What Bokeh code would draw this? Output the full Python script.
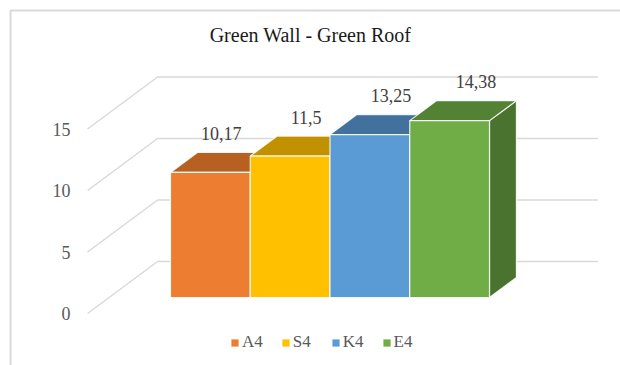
from bokeh.plotting import figure
from bokeh.models import Range1d, Legend, LegendItem, ColumnDataSource
from bokeh.core.properties import value
from bokeh.embed import file_html
from bokeh.resources import INLINE

# ---- data -------------------------------------------------------------
categories = ["A4", "S4", "K4", "E4"]
values = [10.17, 11.5, 13.25, 14.38]
front_colors = ["#ED7D31", "#FFC000", "#5B9BD5", "#70AD47"]
top_colors = ["#B85F22", "#C29100", "#41719C", "#548235"]
side_colors = ["#A9561E", "#B08400", "#3A6790", "#4A7330"]
y_ticks = [0, 5, 10, 15]
title_text = "Green Wall - Green Roof"

# ---- oblique projection ----------------------------------------------
W, H = 620, 365
PX_PER_CAT = 79.75          # pixels per category slot
PX_PER_VAL = 12.3           # pixels per value unit
DEPTH_PX = (70.0, 52.0)     # screen shift from front to back of the floor
BAR_D0, BAR_D1 = 0.3077, 0.6923   # depth span occupied by the columns
DX = DEPTH_PX[0] / PX_PER_CAT
DY = DEPTH_PX[1] / PX_PER_VAL
WALL_LEFT, WALL_RIGHT = -1.27, 4.25

# pixel anchor of the data origin (x=0, y=0)
AX = 170 - (-0.5 + DX * BAR_D0) * PX_PER_CAT
AY = 297 + DY * BAR_D0 * PX_PER_VAL


def px_x(px):
    return (px - AX) / PX_PER_CAT


def px_y(py):
    return (AY - py) / PX_PER_VAL


def proj(x, v, d):
    return x + DX * d, v + DY * d


p = figure(width=W, height=H, output_backend="svg", toolbar_location=None,
           x_range=Range1d(px_x(0), px_x(W)), y_range=Range1d(px_y(H), px_y(0)),
           x_axis_type=None, y_axis_type=None, min_border=0)
p.outline_line_color = None
p.background_fill_color = "white"
p.border_fill_color = "white"

# chart area border (top and left edges)
p.line(x=[px_x(10), px_x(10), px_x(W)], y=[px_y(H), px_y(10), px_y(10)],
       line_color="#D9D9D9", line_width=2)

# gridlines: left wall slant + back wall
gx, gy = [], []
for t in y_ticks:
    x0, y0 = proj(WALL_LEFT, t, 0.0)
    x1, y1 = proj(WALL_LEFT, t, 1.0)
    x2, y2 = proj(WALL_RIGHT, t, 1.0)
    gx.append([x0, x1, x2])
    gy.append([y0, y1, y2])
p.multi_line(xs=gx, ys=gy, line_color="#D9D9D9", line_width=1.5)

# y tick labels at the front edge of the left wall
p.text(x=[WALL_LEFT] * len(y_ticks), y=y_ticks, text=[str(t) for t in y_ticks],
       x_offset=-17, text_align="right", text_baseline="middle",
       text_font=value("Liberation Serif"), text_font_size="18px",
       text_color="#595959")

# 3D columns: side, top, front faces painted left to right
xs, ys, fills = [], [], []
for i, v in enumerate(values):
    l, r = i - 0.5, i + 0.5
    faces = [
        ([(r, 0, BAR_D0), (r, v, BAR_D0), (r, v, BAR_D1), (r, 0, BAR_D1)], side_colors[i]),
        ([(l, v, BAR_D0), (r, v, BAR_D0), (r, v, BAR_D1), (l, v, BAR_D1)], top_colors[i]),
        ([(l, 0, BAR_D0), (r, 0, BAR_D0), (r, v, BAR_D0), (l, v, BAR_D0)], front_colors[i]),
    ]
    for pts, col in faces:
        pp = [proj(x, y, d) for x, y, d in pts]
        xs.append([q[0] for q in pp])
        ys.append([q[1] for q in pp])
        fills.append(col)
src = ColumnDataSource(dict(xs=xs, ys=ys, fill=fills))
p.patches(xs="xs", ys="ys", fill_color="fill", line_color="white",
          line_alpha=0.85, line_width=1.2, source=src)

# value labels above each column
lab_x = [proj(i + (i - 0.5) * 0.065, 0, 0.5)[0] for i in range(len(values))]
lab_y = [proj(0, v, BAR_D1)[1] for v in values]
p.text(x=lab_x, y=lab_y, text=[f"{v:g}".replace(".", ",") for v in values],
       y_offset=-19, text_align="center", text_baseline="middle",
       text_font=value("Liberation Serif"), text_font_size="18px",
       text_color="#404040")

# title
p.text(x=[px_x(310)], y=[px_y(34)], text=[title_text], text_align="center",
       text_baseline="middle", text_font=value("Liberation Serif"),
       text_font_size="20px", text_color="#1A1A1A")

# legend swatches (unplotted renderers that only carry the fill colour)
nan = float("nan")
items = []
for c, col in zip(categories, front_colors):
    r = p.quad(left=[nan], right=[nan], top=[nan], bottom=[nan],
               fill_color=col, line_alpha=0)
    items.append(LegendItem(label=c, renderers=[r]))
legend = Legend(items=items, orientation="horizontal", location=(230, 13),
                glyph_width=9, glyph_height=9, label_standoff=3, spacing=18,
                padding=0, margin=0, border_line_alpha=0,
                background_fill_alpha=0, label_text_font="Liberation Serif",
                label_text_font_size="17px", label_text_color="#595959")
p.add_layout(legend)

open("out.html", "w").write(file_html(p, INLINE))
